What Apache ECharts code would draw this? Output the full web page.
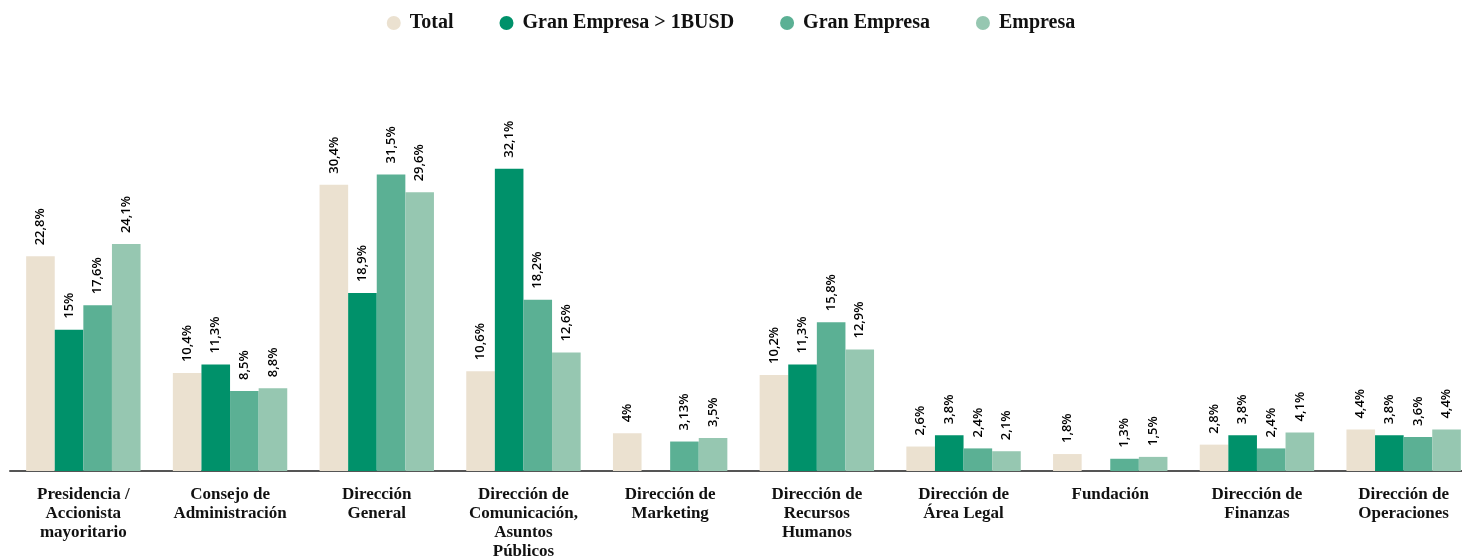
<!DOCTYPE html>
<html>
<head>
<meta charset="utf-8">
<script src="https://cdn.jsdelivr.net/npm/echarts@6/dist/echarts.min.js"></script>
<style>
  html, body { margin: 0; padding: 0; background: #fff; }
  #chart { width: 1462px; height: 557px; }
</style>
</head>
<body>
<div id="chart"></div>
<script>
// categorías
const categories = [
    'Presidencia /\nAccionista\nmayoritario',
    'Consejo de\nAdministración',
    'Dirección\nGeneral',
    'Dirección de\nComunicación,\nAsuntos\nPúblicos',
    'Dirección de\nMarketing',
    'Dirección de\nRecursos\nHumanos',
    'Dirección de\nÁrea Legal',
    'Fundación',
    'Dirección de\nFinanzas',
    'Dirección de\nOperaciones'
];

// valores (%)
const total = [22.8, 10.4, 30.4, 10.6, 4, 10.2, 2.6, 1.8, 2.8, 4.4];
const granEmpresa1B = [15, 11.3, 18.9, 32.1, null, 11.3, 3.8, null, 3.8, 3.8];
const granEmpresa = [17.6, 8.5, 31.5, 18.2, 3.13, 15.8, 2.4, 1.3, 2.4, 3.6];
const empresa = [24.1, 8.8, 29.6, 12.6, 3.5, 12.9, 2.1, 1.5, 4.1, 4.4];

const seriesNames = ['Total', 'Gran Empresa > 1BUSD', 'Gran Empresa', 'Empresa'];
const colors = ['#ebe1d0', '#00916a', '#5bb094', '#96c7b1'];

const chart = echarts.init(document.getElementById('chart'));

const makeSeries = (name, data, color) => ({
    name: name,
    type: 'bar',
    data: data,
    barWidth: 28.6,
    barGap: '0%',
    itemStyle: { color: color },
    label: {
        show: true,
        position: 'top',
        rotate: 90,
        align: 'left',
        verticalAlign: 'middle',
        distance: 11,
        fontFamily: 'Open Sans',
        fontWeight: 600,
        fontSize: 13,
        color: '#000',
        formatter: p => String(p.value).replace('.', ',') + '%'
    }
});

chart.setOption({
    animation: false,
    color: colors,
    legend: {
        top: 8,
        left: 'center',
        icon: 'circle',
        itemWidth: 14,
        itemHeight: 16,
        itemGap: 46,
        textStyle: {
            fontFamily: 'Liberation Serif',
            fontWeight: 'bold',
            fontSize: 20,
            color: '#111',
            padding: [0, 0, 0, 4]
        },
        data: seriesNames
    },
    grid: {
        left: 10,
        width: 1467,
        top: 141.5,
        bottom: 86,
        containLabel: false,
        outerBoundsMode: 'none'
    },
    xAxis: {
        type: 'category',
        data: categories,
        axisTick: { show: false },
        axisLine: { lineStyle: { color: '#555', width: 2 } },
        axisLabel: {
            interval: 0,
            margin: 14,
            fontFamily: 'Liberation Serif',
            fontWeight: 'bold',
            fontSize: 17,
            lineHeight: 19,
            color: '#111'
        }
    },
    yAxis: {
        type: 'value',
        min: 0,
        max: 35,
        show: false
    },
    series: [
        makeSeries(seriesNames[0], total, colors[0]),
        makeSeries(seriesNames[1], granEmpresa1B, colors[1]),
        makeSeries(seriesNames[2], granEmpresa, colors[2]),
        makeSeries(seriesNames[3], empresa, colors[3])
    ]
});
</script>
</body>
</html>
